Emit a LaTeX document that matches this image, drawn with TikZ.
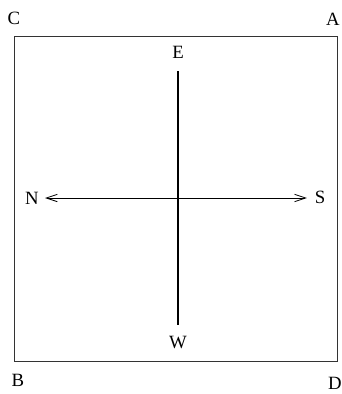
\documentclass[tikz,border=0pt]{standalone}
\usepackage{fontspec}
\setmainfont{Liberation Serif}
\usepackage{tikz}
\usetikzlibrary{arrows.meta}

\begin{document}
\begin{tikzpicture}[
  x=0.03cm, y=-0.03cm,
  every node/.style={font=\fontsize{16}{19}\selectfont, inner sep=0pt},
  frameline/.style={draw=black!80, line width=0.8pt},
  axisline/.style={line width=1.7pt},
  dirarrow/.style={line width=0.7pt, {Straight Barb[length=3.3mm,width=2.2mm]}-{Straight Barb[length=3.3mm,width=2.2mm]}},
]

\useasboundingbox (0,0) rectangle (342,394);

% Frame
\coordinate (tl) at (14,36);
\coordinate (br) at (337,361);
\draw[frameline] (tl) rectangle (br);

% Corner labels
\node (C) at (14,18) {C};
\node (A) at (333,19) {A};
\node (B) at (18,380) {B};
\node (D) at (335,383) {D};

% Direction labels
\node (E) at (178,52) {E};
\node (W) at (178,343) {W};
\node (N) at (32,198) {N};
\node (S) at (320,197) {S};

% Connections
\draw[axisline, shorten <=0.39cm, shorten >=0.33cm] (E.south) -- (W.north);
\draw[dirarrow, shorten <=0.18cm, shorten >=0.23cm] (N.east) -- (N.east -| S.west);

\end{tikzpicture}
\end{document}
